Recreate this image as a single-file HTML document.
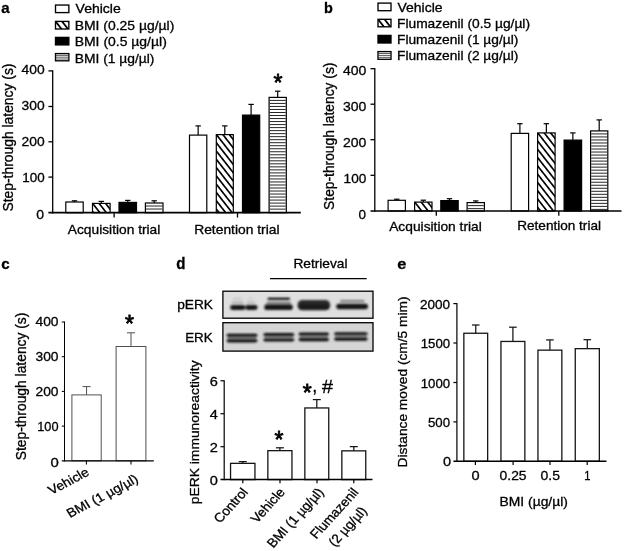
<!DOCTYPE html>
<html><head><meta charset="utf-8"><title>Figure</title>
<style>
html,body{margin:0;padding:0;background:#fff;}
body{width:624px;height:551px;overflow:hidden;}
svg{display:block;font-family:"Liberation Sans",sans-serif;}
svg text{fill:#000;stroke:#000;stroke-width:0.3px;}
</style></head><body>
<svg width="624" height="551" viewBox="0 0 624 551">
<rect x="0" y="0" width="624" height="551" fill="#fff" stroke="none"/>
<defs>
<filter id="bl1" filterUnits="userSpaceOnUse" x="220" y="288" width="156" height="66"><feGaussianBlur stdDeviation="1.0"/></filter>
<filter id="bl2" filterUnits="userSpaceOnUse" x="220" y="288" width="156" height="66"><feGaussianBlur stdDeviation="0.85"/></filter>
</defs>
<text x="1.30" y="13.40" font-size="15.5" textLength="8.40" lengthAdjust="spacingAndGlyphs" font-weight="700">a</text>
<rect x="55.50" y="5.05" width="13.35" height="7.55" fill="#fff" stroke="#000" stroke-width="1.35"/>
<pattern id="dg1" width="5.1" height="5.1" patternUnits="userSpaceOnUse" patternTransform="translate(55.80 21.70) rotate(52)"><rect width="5.1" height="5.1" fill="#fff"/><rect x="0" y="0" width="5.1" height="0.9" fill="#000"/><rect x="0" y="4.199999999999999" width="5.1" height="0.9" fill="#000"/></pattern>
<rect x="55.50" y="21.40" width="13.35" height="7.60" fill="url(#dg1)" stroke="#000" stroke-width="1.35"/>
<rect x="55.50" y="37.40" width="13.35" height="7.50" fill="#000" stroke="#000" stroke-width="1.35"/>
<rect x="55.50" y="53.60" width="13.35" height="7.20" fill="#fff" stroke="#000" stroke-width="1.35"/>
<line x1="55.50" y1="55.40" x2="68.85" y2="55.40" stroke="#333" stroke-width="0.8"/>
<line x1="55.50" y1="57.20" x2="68.85" y2="57.20" stroke="#333" stroke-width="0.8"/>
<line x1="55.50" y1="59.00" x2="68.85" y2="59.00" stroke="#333" stroke-width="0.8"/>
<text x="75.60" y="13.40" font-size="12.7" textLength="45.20" lengthAdjust="spacingAndGlyphs">Vehicle</text>
<text x="74.70" y="29.60" font-size="12.7" textLength="99.60" lengthAdjust="spacingAndGlyphs">BMI (0.25 µg/µl)</text>
<text x="74.70" y="45.90" font-size="12.7" textLength="92.10" lengthAdjust="spacingAndGlyphs">BMI (0.5 µg/µl)</text>
<text x="74.70" y="63.40" font-size="13.3" textLength="79.80" lengthAdjust="spacingAndGlyphs">BMI (1 µg/µl)</text>
<line x1="74.50" y1="200.80" x2="74.50" y2="202.40" stroke="#000" stroke-width="1.2"/>
<line x1="71.80" y1="200.80" x2="77.20" y2="200.80" stroke="#000" stroke-width="1.2"/>
<rect x="65.80" y="202.00" width="17.40" height="10.70" fill="#fff" stroke="#000" stroke-width="1.2"/>
<line x1="101.30" y1="201.40" x2="101.30" y2="203.80" stroke="#000" stroke-width="1.2"/>
<line x1="98.60" y1="201.40" x2="104.00" y2="201.40" stroke="#000" stroke-width="1.2"/>
<pattern id="dg2" width="5.1" height="5.1" patternUnits="userSpaceOnUse" patternTransform="translate(93.10 204.00) rotate(52)"><rect width="5.1" height="5.1" fill="#fff"/><rect x="0" y="0" width="5.1" height="0.825" fill="#000"/><rect x="0" y="4.2749999999999995" width="5.1" height="0.825" fill="#000"/></pattern>
<rect x="92.50" y="203.40" width="17.60" height="9.30" fill="url(#dg2)" stroke="#000" stroke-width="1.2"/>
<line x1="127.75" y1="200.40" x2="127.75" y2="202.80" stroke="#000" stroke-width="1.2"/>
<line x1="125.05" y1="200.40" x2="130.45" y2="200.40" stroke="#000" stroke-width="1.2"/>
<rect x="119.00" y="202.40" width="17.50" height="10.30" fill="#000" stroke="#000" stroke-width="1.2"/>
<line x1="154.20" y1="200.80" x2="154.20" y2="203.40" stroke="#000" stroke-width="1.2"/>
<line x1="151.50" y1="200.80" x2="156.90" y2="200.80" stroke="#000" stroke-width="1.2"/>
<rect x="145.40" y="203.00" width="17.60" height="9.70" fill="#fff" stroke="#000" stroke-width="1.2"/>
<line x1="146.00" y1="206.02" x2="162.40" y2="206.02" stroke="#1a1a1a" stroke-width="0.95"/>
<line x1="146.00" y1="209.04" x2="162.40" y2="209.04" stroke="#1a1a1a" stroke-width="0.95"/>
<line x1="198.15" y1="125.90" x2="198.15" y2="135.50" stroke="#000" stroke-width="1.2"/>
<line x1="195.45" y1="125.90" x2="200.85" y2="125.90" stroke="#000" stroke-width="1.2"/>
<rect x="189.50" y="135.10" width="17.30" height="77.60" fill="#fff" stroke="#000" stroke-width="1.2"/>
<line x1="224.80" y1="125.90" x2="224.80" y2="135.00" stroke="#000" stroke-width="1.2"/>
<line x1="222.10" y1="125.90" x2="227.50" y2="125.90" stroke="#000" stroke-width="1.2"/>
<pattern id="dg3" width="5.1" height="5.1" patternUnits="userSpaceOnUse" patternTransform="translate(216.90 135.20) rotate(52)"><rect width="5.1" height="5.1" fill="#fff"/><rect x="0" y="0" width="5.1" height="0.825" fill="#000"/><rect x="0" y="4.2749999999999995" width="5.1" height="0.825" fill="#000"/></pattern>
<rect x="216.30" y="134.60" width="17.00" height="78.10" fill="url(#dg3)" stroke="#000" stroke-width="1.2"/>
<line x1="251.10" y1="104.40" x2="251.10" y2="115.50" stroke="#000" stroke-width="1.2"/>
<line x1="248.40" y1="104.40" x2="253.80" y2="104.40" stroke="#000" stroke-width="1.2"/>
<rect x="242.50" y="115.10" width="17.20" height="97.60" fill="#000" stroke="#000" stroke-width="1.2"/>
<line x1="277.70" y1="91.20" x2="277.70" y2="97.80" stroke="#000" stroke-width="1.2"/>
<line x1="275.00" y1="91.20" x2="280.40" y2="91.20" stroke="#000" stroke-width="1.2"/>
<rect x="269.10" y="97.40" width="17.20" height="115.30" fill="#fff" stroke="#000" stroke-width="1.2"/>
<line x1="269.70" y1="100.42" x2="285.70" y2="100.42" stroke="#1a1a1a" stroke-width="0.95"/>
<line x1="269.70" y1="103.44" x2="285.70" y2="103.44" stroke="#1a1a1a" stroke-width="0.95"/>
<line x1="269.70" y1="106.46" x2="285.70" y2="106.46" stroke="#1a1a1a" stroke-width="0.95"/>
<line x1="269.70" y1="109.48" x2="285.70" y2="109.48" stroke="#1a1a1a" stroke-width="0.95"/>
<line x1="269.70" y1="112.50" x2="285.70" y2="112.50" stroke="#1a1a1a" stroke-width="0.95"/>
<line x1="269.70" y1="115.52" x2="285.70" y2="115.52" stroke="#1a1a1a" stroke-width="0.95"/>
<line x1="269.70" y1="118.54" x2="285.70" y2="118.54" stroke="#1a1a1a" stroke-width="0.95"/>
<line x1="269.70" y1="121.56" x2="285.70" y2="121.56" stroke="#1a1a1a" stroke-width="0.95"/>
<line x1="269.70" y1="124.58" x2="285.70" y2="124.58" stroke="#1a1a1a" stroke-width="0.95"/>
<line x1="269.70" y1="127.60" x2="285.70" y2="127.60" stroke="#1a1a1a" stroke-width="0.95"/>
<line x1="269.70" y1="130.62" x2="285.70" y2="130.62" stroke="#1a1a1a" stroke-width="0.95"/>
<line x1="269.70" y1="133.64" x2="285.70" y2="133.64" stroke="#1a1a1a" stroke-width="0.95"/>
<line x1="269.70" y1="136.66" x2="285.70" y2="136.66" stroke="#1a1a1a" stroke-width="0.95"/>
<line x1="269.70" y1="139.68" x2="285.70" y2="139.68" stroke="#1a1a1a" stroke-width="0.95"/>
<line x1="269.70" y1="142.70" x2="285.70" y2="142.70" stroke="#1a1a1a" stroke-width="0.95"/>
<line x1="269.70" y1="145.72" x2="285.70" y2="145.72" stroke="#1a1a1a" stroke-width="0.95"/>
<line x1="269.70" y1="148.74" x2="285.70" y2="148.74" stroke="#1a1a1a" stroke-width="0.95"/>
<line x1="269.70" y1="151.76" x2="285.70" y2="151.76" stroke="#1a1a1a" stroke-width="0.95"/>
<line x1="269.70" y1="154.78" x2="285.70" y2="154.78" stroke="#1a1a1a" stroke-width="0.95"/>
<line x1="269.70" y1="157.80" x2="285.70" y2="157.80" stroke="#1a1a1a" stroke-width="0.95"/>
<line x1="269.70" y1="160.82" x2="285.70" y2="160.82" stroke="#1a1a1a" stroke-width="0.95"/>
<line x1="269.70" y1="163.84" x2="285.70" y2="163.84" stroke="#1a1a1a" stroke-width="0.95"/>
<line x1="269.70" y1="166.86" x2="285.70" y2="166.86" stroke="#1a1a1a" stroke-width="0.95"/>
<line x1="269.70" y1="169.88" x2="285.70" y2="169.88" stroke="#1a1a1a" stroke-width="0.95"/>
<line x1="269.70" y1="172.90" x2="285.70" y2="172.90" stroke="#1a1a1a" stroke-width="0.95"/>
<line x1="269.70" y1="175.92" x2="285.70" y2="175.92" stroke="#1a1a1a" stroke-width="0.95"/>
<line x1="269.70" y1="178.94" x2="285.70" y2="178.94" stroke="#1a1a1a" stroke-width="0.95"/>
<line x1="269.70" y1="181.96" x2="285.70" y2="181.96" stroke="#1a1a1a" stroke-width="0.95"/>
<line x1="269.70" y1="184.98" x2="285.70" y2="184.98" stroke="#1a1a1a" stroke-width="0.95"/>
<line x1="269.70" y1="188.00" x2="285.70" y2="188.00" stroke="#1a1a1a" stroke-width="0.95"/>
<line x1="269.70" y1="191.02" x2="285.70" y2="191.02" stroke="#1a1a1a" stroke-width="0.95"/>
<line x1="269.70" y1="194.04" x2="285.70" y2="194.04" stroke="#1a1a1a" stroke-width="0.95"/>
<line x1="269.70" y1="197.06" x2="285.70" y2="197.06" stroke="#1a1a1a" stroke-width="0.95"/>
<line x1="269.70" y1="200.08" x2="285.70" y2="200.08" stroke="#1a1a1a" stroke-width="0.95"/>
<line x1="269.70" y1="203.10" x2="285.70" y2="203.10" stroke="#1a1a1a" stroke-width="0.95"/>
<line x1="269.70" y1="206.12" x2="285.70" y2="206.12" stroke="#1a1a1a" stroke-width="0.95"/>
<line x1="269.70" y1="209.14" x2="285.70" y2="209.14" stroke="#1a1a1a" stroke-width="0.95"/>
<line x1="52.70" y1="70.25" x2="52.70" y2="213.55" stroke="#000" stroke-width="1.3"/>
<line x1="48.40" y1="212.70" x2="300.80" y2="212.70" stroke="#000" stroke-width="1.7"/>
<line x1="48.40" y1="70.90" x2="52.70" y2="70.90" stroke="#000" stroke-width="1.3"/>
<line x1="48.40" y1="106.50" x2="52.70" y2="106.50" stroke="#000" stroke-width="1.3"/>
<line x1="48.40" y1="141.80" x2="52.70" y2="141.80" stroke="#000" stroke-width="1.3"/>
<line x1="48.40" y1="177.10" x2="52.70" y2="177.10" stroke="#000" stroke-width="1.3"/>
<line x1="114.10" y1="212.70" x2="114.10" y2="217.55" stroke="#000" stroke-width="1.3"/>
<line x1="237.50" y1="212.70" x2="237.50" y2="217.55" stroke="#000" stroke-width="1.3"/>
<text x="21.60" y="73.90" font-size="13" textLength="23.10" lengthAdjust="spacingAndGlyphs">400</text>
<text x="21.60" y="110.05" font-size="13" textLength="23.10" lengthAdjust="spacingAndGlyphs">300</text>
<text x="21.60" y="146.20" font-size="13" textLength="23.10" lengthAdjust="spacingAndGlyphs">200</text>
<text x="22.30" y="182.35" font-size="13" textLength="22.40" lengthAdjust="spacingAndGlyphs">100</text>
<text x="36.20" y="218.50" font-size="13" textLength="7.80" lengthAdjust="spacingAndGlyphs">0</text>
<text x="0" y="0" font-size="13.88" textLength="148.10" lengthAdjust="spacingAndGlyphs" transform="translate(12.90 211.60) scale(1.04 1) rotate(-90)">Step-through latency (s)</text>
<text x="67.80" y="233.60" font-size="12.7" textLength="92.50" lengthAdjust="spacingAndGlyphs">Acquisition trial</text>
<text x="194.20" y="233.60" font-size="12.7" textLength="85.30" lengthAdjust="spacingAndGlyphs">Retention trial</text>
<text x="278.00" y="91.26" font-size="23" text-anchor="middle" style="stroke-width:0.8px">*</text>
<text x="324.00" y="12.50" font-size="15.5" textLength="8.80" lengthAdjust="spacingAndGlyphs" font-weight="700">b</text>
<rect x="378.00" y="3.10" width="13.00" height="7.60" fill="#fff" stroke="#000" stroke-width="1.35"/>
<pattern id="dg4" width="5.1" height="5.1" patternUnits="userSpaceOnUse" patternTransform="translate(378.30 19.60) rotate(52)"><rect width="5.1" height="5.1" fill="#fff"/><rect x="0" y="0" width="5.1" height="0.9" fill="#000"/><rect x="0" y="4.199999999999999" width="5.1" height="0.9" fill="#000"/></pattern>
<rect x="378.00" y="19.30" width="13.00" height="7.50" fill="url(#dg4)" stroke="#000" stroke-width="1.35"/>
<rect x="378.00" y="35.40" width="13.00" height="7.60" fill="#000" stroke="#000" stroke-width="1.35"/>
<rect x="378.00" y="51.60" width="13.00" height="7.70" fill="#fff" stroke="#000" stroke-width="1.35"/>
<line x1="378.00" y1="53.52" x2="391.00" y2="53.52" stroke="#333" stroke-width="0.8"/>
<line x1="378.00" y1="55.45" x2="391.00" y2="55.45" stroke="#333" stroke-width="0.8"/>
<line x1="378.00" y1="57.38" x2="391.00" y2="57.38" stroke="#333" stroke-width="0.8"/>
<text x="397.50" y="11.80" font-size="12.7" textLength="45.00" lengthAdjust="spacingAndGlyphs">Vehicle</text>
<text x="397.00" y="27.60" font-size="12.7" textLength="133.00" lengthAdjust="spacingAndGlyphs">Flumazenil (0.5 µg/µl)</text>
<text x="397.00" y="43.60" font-size="12.7" textLength="121.30" lengthAdjust="spacingAndGlyphs">Flumazenil (1 µg/µl)</text>
<text x="397.00" y="59.70" font-size="12.7" textLength="121.30" lengthAdjust="spacingAndGlyphs">Flumazenil (2 µg/µl)</text>
<line x1="396.75" y1="199.20" x2="396.75" y2="200.70" stroke="#000" stroke-width="1.2"/>
<line x1="394.05" y1="199.20" x2="399.45" y2="199.20" stroke="#000" stroke-width="1.2"/>
<rect x="388.10" y="200.30" width="17.30" height="10.70" fill="#fff" stroke="#000" stroke-width="1.2"/>
<line x1="423.30" y1="200.20" x2="423.30" y2="202.50" stroke="#000" stroke-width="1.2"/>
<line x1="420.60" y1="200.20" x2="426.00" y2="200.20" stroke="#000" stroke-width="1.2"/>
<pattern id="dg5" width="5.1" height="5.1" patternUnits="userSpaceOnUse" patternTransform="translate(415.20 202.70) rotate(52)"><rect width="5.1" height="5.1" fill="#fff"/><rect x="0" y="0" width="5.1" height="0.825" fill="#000"/><rect x="0" y="4.2749999999999995" width="5.1" height="0.825" fill="#000"/></pattern>
<rect x="414.60" y="202.10" width="17.40" height="8.90" fill="url(#dg5)" stroke="#000" stroke-width="1.2"/>
<line x1="449.50" y1="198.70" x2="449.50" y2="201.00" stroke="#000" stroke-width="1.2"/>
<line x1="446.80" y1="198.70" x2="452.20" y2="198.70" stroke="#000" stroke-width="1.2"/>
<rect x="440.80" y="200.60" width="17.40" height="10.40" fill="#000" stroke="#000" stroke-width="1.2"/>
<line x1="475.75" y1="200.90" x2="475.75" y2="203.00" stroke="#000" stroke-width="1.2"/>
<line x1="473.05" y1="200.90" x2="478.45" y2="200.90" stroke="#000" stroke-width="1.2"/>
<rect x="467.10" y="202.60" width="17.30" height="8.40" fill="#fff" stroke="#000" stroke-width="1.2"/>
<line x1="467.70" y1="205.62" x2="483.80" y2="205.62" stroke="#1a1a1a" stroke-width="0.95"/>
<line x1="467.70" y1="208.64" x2="483.80" y2="208.64" stroke="#1a1a1a" stroke-width="0.95"/>
<line x1="519.90" y1="123.70" x2="519.90" y2="133.80" stroke="#000" stroke-width="1.2"/>
<line x1="517.20" y1="123.70" x2="522.60" y2="123.70" stroke="#000" stroke-width="1.2"/>
<rect x="511.20" y="133.40" width="17.40" height="77.60" fill="#fff" stroke="#000" stroke-width="1.2"/>
<line x1="546.35" y1="123.70" x2="546.35" y2="133.30" stroke="#000" stroke-width="1.2"/>
<line x1="543.65" y1="123.70" x2="549.05" y2="123.70" stroke="#000" stroke-width="1.2"/>
<pattern id="dg6" width="5.1" height="5.1" patternUnits="userSpaceOnUse" patternTransform="translate(538.20 133.50) rotate(52)"><rect width="5.1" height="5.1" fill="#fff"/><rect x="0" y="0" width="5.1" height="0.825" fill="#000"/><rect x="0" y="4.2749999999999995" width="5.1" height="0.825" fill="#000"/></pattern>
<rect x="537.60" y="132.90" width="17.50" height="78.10" fill="url(#dg6)" stroke="#000" stroke-width="1.2"/>
<line x1="572.85" y1="132.90" x2="572.85" y2="140.50" stroke="#000" stroke-width="1.2"/>
<line x1="570.15" y1="132.90" x2="575.55" y2="132.90" stroke="#000" stroke-width="1.2"/>
<rect x="564.10" y="140.10" width="17.50" height="70.90" fill="#000" stroke="#000" stroke-width="1.2"/>
<line x1="599.20" y1="119.90" x2="599.20" y2="131.30" stroke="#000" stroke-width="1.2"/>
<line x1="596.50" y1="119.90" x2="601.90" y2="119.90" stroke="#000" stroke-width="1.2"/>
<rect x="590.60" y="130.90" width="17.20" height="80.10" fill="#fff" stroke="#000" stroke-width="1.2"/>
<line x1="591.20" y1="133.92" x2="607.20" y2="133.92" stroke="#1a1a1a" stroke-width="0.95"/>
<line x1="591.20" y1="136.94" x2="607.20" y2="136.94" stroke="#1a1a1a" stroke-width="0.95"/>
<line x1="591.20" y1="139.96" x2="607.20" y2="139.96" stroke="#1a1a1a" stroke-width="0.95"/>
<line x1="591.20" y1="142.98" x2="607.20" y2="142.98" stroke="#1a1a1a" stroke-width="0.95"/>
<line x1="591.20" y1="146.00" x2="607.20" y2="146.00" stroke="#1a1a1a" stroke-width="0.95"/>
<line x1="591.20" y1="149.02" x2="607.20" y2="149.02" stroke="#1a1a1a" stroke-width="0.95"/>
<line x1="591.20" y1="152.04" x2="607.20" y2="152.04" stroke="#1a1a1a" stroke-width="0.95"/>
<line x1="591.20" y1="155.06" x2="607.20" y2="155.06" stroke="#1a1a1a" stroke-width="0.95"/>
<line x1="591.20" y1="158.08" x2="607.20" y2="158.08" stroke="#1a1a1a" stroke-width="0.95"/>
<line x1="591.20" y1="161.10" x2="607.20" y2="161.10" stroke="#1a1a1a" stroke-width="0.95"/>
<line x1="591.20" y1="164.12" x2="607.20" y2="164.12" stroke="#1a1a1a" stroke-width="0.95"/>
<line x1="591.20" y1="167.14" x2="607.20" y2="167.14" stroke="#1a1a1a" stroke-width="0.95"/>
<line x1="591.20" y1="170.16" x2="607.20" y2="170.16" stroke="#1a1a1a" stroke-width="0.95"/>
<line x1="591.20" y1="173.18" x2="607.20" y2="173.18" stroke="#1a1a1a" stroke-width="0.95"/>
<line x1="591.20" y1="176.20" x2="607.20" y2="176.20" stroke="#1a1a1a" stroke-width="0.95"/>
<line x1="591.20" y1="179.22" x2="607.20" y2="179.22" stroke="#1a1a1a" stroke-width="0.95"/>
<line x1="591.20" y1="182.24" x2="607.20" y2="182.24" stroke="#1a1a1a" stroke-width="0.95"/>
<line x1="591.20" y1="185.26" x2="607.20" y2="185.26" stroke="#1a1a1a" stroke-width="0.95"/>
<line x1="591.20" y1="188.28" x2="607.20" y2="188.28" stroke="#1a1a1a" stroke-width="0.95"/>
<line x1="591.20" y1="191.30" x2="607.20" y2="191.30" stroke="#1a1a1a" stroke-width="0.95"/>
<line x1="591.20" y1="194.32" x2="607.20" y2="194.32" stroke="#1a1a1a" stroke-width="0.95"/>
<line x1="591.20" y1="197.34" x2="607.20" y2="197.34" stroke="#1a1a1a" stroke-width="0.95"/>
<line x1="591.20" y1="200.36" x2="607.20" y2="200.36" stroke="#1a1a1a" stroke-width="0.95"/>
<line x1="591.20" y1="203.38" x2="607.20" y2="203.38" stroke="#1a1a1a" stroke-width="0.95"/>
<line x1="591.20" y1="206.40" x2="607.20" y2="206.40" stroke="#1a1a1a" stroke-width="0.95"/>
<line x1="591.20" y1="209.42" x2="607.20" y2="209.42" stroke="#1a1a1a" stroke-width="0.95"/>
<line x1="374.80" y1="68.05" x2="374.80" y2="211.85" stroke="#000" stroke-width="1.3"/>
<line x1="370.50" y1="211.00" x2="621.50" y2="211.00" stroke="#000" stroke-width="1.7"/>
<line x1="370.50" y1="68.70" x2="374.80" y2="68.70" stroke="#000" stroke-width="1.3"/>
<line x1="370.50" y1="104.20" x2="374.80" y2="104.20" stroke="#000" stroke-width="1.3"/>
<line x1="370.50" y1="139.70" x2="374.80" y2="139.70" stroke="#000" stroke-width="1.3"/>
<line x1="370.50" y1="175.30" x2="374.80" y2="175.30" stroke="#000" stroke-width="1.3"/>
<line x1="436.30" y1="211.00" x2="436.30" y2="215.85" stroke="#000" stroke-width="1.3"/>
<line x1="558.80" y1="211.00" x2="558.80" y2="215.85" stroke="#000" stroke-width="1.3"/>
<text x="342.90" y="74.75" font-size="13" textLength="23.40" lengthAdjust="spacingAndGlyphs">400</text>
<text x="342.90" y="110.69" font-size="13" textLength="23.40" lengthAdjust="spacingAndGlyphs">300</text>
<text x="342.90" y="146.63" font-size="13" textLength="23.40" lengthAdjust="spacingAndGlyphs">200</text>
<text x="343.60" y="182.57" font-size="13" textLength="22.70" lengthAdjust="spacingAndGlyphs">100</text>
<text x="358.60" y="218.51" font-size="13" textLength="7.50" lengthAdjust="spacingAndGlyphs">0</text>
<text x="0" y="0" font-size="13.8" textLength="147.30" lengthAdjust="spacingAndGlyphs" transform="translate(334.00 209.90) scale(1.04 1) rotate(-90)">Step-through latency (s)</text>
<text x="389.20" y="230.70" font-size="12.7" textLength="92.60" lengthAdjust="spacingAndGlyphs">Acquisition trial</text>
<text x="517.20" y="230.40" font-size="12.7" textLength="83.80" lengthAdjust="spacingAndGlyphs">Retention trial</text>
<text x="1.30" y="268.60" font-size="15.5" textLength="8.40" lengthAdjust="spacingAndGlyphs" font-weight="700">c</text>
<line x1="86.55" y1="386.60" x2="86.55" y2="394.90" stroke="#505050" stroke-width="1.0"/>
<line x1="82.55" y1="386.60" x2="90.55" y2="386.60" stroke="#505050" stroke-width="1.0"/>
<rect x="71.90" y="394.90" width="29.30" height="65.90" fill="#fff" stroke="#505050" stroke-width="1.0"/>
<line x1="131.00" y1="332.80" x2="131.00" y2="346.50" stroke="#505050" stroke-width="1.0"/>
<line x1="127.00" y1="332.80" x2="135.00" y2="332.80" stroke="#505050" stroke-width="1.0"/>
<rect x="116.10" y="346.50" width="29.80" height="114.30" fill="#fff" stroke="#505050" stroke-width="1.0"/>
<line x1="64.50" y1="321.48" x2="64.50" y2="461.43" stroke="#000" stroke-width="1.05"/>
<line x1="61.80" y1="460.80" x2="153.80" y2="460.80" stroke="#000" stroke-width="1.25"/>
<line x1="61.80" y1="322.00" x2="64.50" y2="322.00" stroke="#000" stroke-width="1.05"/>
<line x1="61.80" y1="356.70" x2="64.50" y2="356.70" stroke="#000" stroke-width="1.05"/>
<line x1="61.80" y1="391.40" x2="64.50" y2="391.40" stroke="#000" stroke-width="1.05"/>
<line x1="61.80" y1="426.10" x2="64.50" y2="426.10" stroke="#000" stroke-width="1.05"/>
<line x1="86.40" y1="460.80" x2="86.40" y2="464.43" stroke="#000" stroke-width="1.05"/>
<line x1="131.00" y1="460.80" x2="131.00" y2="464.43" stroke="#000" stroke-width="1.05"/>
<text x="35.50" y="326.10" font-size="13" textLength="23.00" lengthAdjust="spacingAndGlyphs">400</text>
<text x="35.50" y="361.20" font-size="13" textLength="23.00" lengthAdjust="spacingAndGlyphs">300</text>
<text x="35.50" y="396.30" font-size="13" textLength="23.00" lengthAdjust="spacingAndGlyphs">200</text>
<text x="37.20" y="431.40" font-size="13" textLength="21.30" lengthAdjust="spacingAndGlyphs">100</text>
<text x="50.50" y="466.50" font-size="13" textLength="8.30" lengthAdjust="spacingAndGlyphs">0</text>
<text x="0" y="0" font-size="13.84" textLength="147.70" lengthAdjust="spacingAndGlyphs" transform="translate(26.20 460.30) scale(1.02 1) rotate(-90)">Step-through latency (s)</text>
<text x="-40.95" y="0" font-size="12.7" textLength="40.95" lengthAdjust="spacingAndGlyphs" transform="translate(90.20 474.60) scale(1.09 1) rotate(-30)">Vehicle</text>
<text x="-73.21" y="0" font-size="12.7" textLength="73.21" lengthAdjust="spacingAndGlyphs" transform="translate(139.20 481.50) scale(1.09 1) rotate(-30)">BMI (1 µg/µl)</text>
<text x="129.60" y="331.76" font-size="23" text-anchor="middle" style="stroke-width:0.8px">*</text>
<text x="176.30" y="268.80" font-size="16" textLength="9.20" lengthAdjust="spacingAndGlyphs" font-weight="700">d</text>
<text x="293.40" y="268.30" font-size="12.7" textLength="54.10" lengthAdjust="spacingAndGlyphs">Retrieval</text>
<line x1="270.00" y1="278.70" x2="366.70" y2="278.70" stroke="#000" stroke-width="1.2"/>
<text x="177.20" y="309.20" font-size="12.7" textLength="35.80" lengthAdjust="spacingAndGlyphs">pERK</text>
<text x="185.20" y="342.30" font-size="12.7" textLength="27.50" lengthAdjust="spacingAndGlyphs">ERK</text>
<g id="blots">
<rect x="222.90" y="291.20" width="150.10" height="27.00" fill="#dfdfdf" stroke="#000" stroke-width="1.3"/>
<rect x="222.90" y="322.70" width="150.10" height="28.40" fill="#d5d5d5" stroke="#000" stroke-width="1.3"/>
<g filter="url(#bl2)">
<rect x="232.0" y="301.7" width="11.5" height="1.6" rx="0.8" fill="#9a9a9a" opacity="1"/>
<rect x="247.0" y="301.7" width="8.0" height="1.6" rx="0.8" fill="#a8a8a8" opacity="1"/>
<rect x="233.0" y="298.1" width="9.0" height="1.2" rx="0.6" fill="#bcbcbc" opacity="1"/>
<rect x="248.0" y="298.1" width="5.0" height="1.2" rx="0.6" fill="#c8c8c8" opacity="1"/>
<rect x="266.5" y="301.5" width="24.5" height="2.5" rx="1.2" fill="#858585" opacity="1"/>
<rect x="267.5" y="297.8" width="22.5" height="2.1" rx="1.0" fill="#000" opacity="1"/>
<rect x="340.0" y="300.0" width="24.5" height="2.2" rx="1.1" fill="#7a7a7a" opacity="1"/>
</g>
<g filter="url(#bl1)">
<rect x="230.2" y="304.9" width="15.1" height="5.2" rx="2.4" fill="#151515" opacity="1"/>
<rect x="245.2" y="305.0" width="12.4" height="5.0" rx="2.4" fill="#151515" opacity="1"/>
<rect x="264.3" y="304.3" width="28.5" height="5.8" rx="2.9" fill="#151515" opacity="1"/>
<rect x="297.5" y="300.0" width="32.7" height="10.2" rx="4.8" fill="#2b2b2b" opacity="1"/>
<rect x="298.5" y="304.5" width="30.7" height="5.5" rx="2.7" fill="#1c1c1c" opacity="1"/>
<rect x="336.2" y="303.8" width="31.8" height="5.4" rx="2.7" fill="#151515" opacity="1"/>
</g>
<g filter="url(#bl2)">
<rect x="227.6" y="335.0" width="28.8" height="6.6" rx="2.0" fill="#a0a0a0" opacity="1"/>
<rect x="226.6" y="333.8" width="30.8" height="3.4" rx="1.7" fill="#101010" opacity="1"/>
<rect x="226.6" y="338.7" width="30.8" height="3.7" rx="1.8" fill="#101010" opacity="1"/>
<rect x="264.4" y="334.2" width="28.8" height="6.6" rx="2.0" fill="#a0a0a0" opacity="1"/>
<rect x="263.4" y="333.0" width="30.8" height="3.4" rx="1.7" fill="#101010" opacity="1"/>
<rect x="263.4" y="337.9" width="30.8" height="3.7" rx="1.8" fill="#101010" opacity="1"/>
<rect x="299.7" y="333.8" width="28.2" height="6.6" rx="2.0" fill="#a0a0a0" opacity="1"/>
<rect x="298.7" y="332.6" width="30.2" height="3.4" rx="1.7" fill="#101010" opacity="1"/>
<rect x="298.7" y="337.5" width="30.2" height="3.7" rx="1.8" fill="#101010" opacity="1"/>
<rect x="335.2" y="333.4" width="31.4" height="6.6" rx="2.0" fill="#a0a0a0" opacity="1"/>
<rect x="334.2" y="332.2" width="33.4" height="3.4" rx="1.7" fill="#101010" opacity="1"/>
<rect x="334.2" y="337.1" width="33.4" height="3.7" rx="1.8" fill="#101010" opacity="1"/>
</g>
</g>
<line x1="242.75" y1="461.60" x2="242.75" y2="463.70" stroke="#151515" stroke-width="1.25"/>
<line x1="238.75" y1="461.60" x2="246.75" y2="461.60" stroke="#151515" stroke-width="1.25"/>
<rect x="230.55" y="463.35" width="24.40" height="16.25" fill="#fff" stroke="#151515" stroke-width="1.3"/>
<line x1="279.90" y1="447.80" x2="279.90" y2="451.00" stroke="#151515" stroke-width="1.25"/>
<line x1="275.90" y1="447.80" x2="283.90" y2="447.80" stroke="#151515" stroke-width="1.25"/>
<rect x="267.85" y="450.65" width="24.10" height="28.95" fill="#fff" stroke="#151515" stroke-width="1.3"/>
<line x1="316.80" y1="399.60" x2="316.80" y2="408.30" stroke="#151515" stroke-width="1.25"/>
<line x1="312.80" y1="399.60" x2="320.80" y2="399.60" stroke="#151515" stroke-width="1.25"/>
<rect x="304.85" y="407.95" width="23.90" height="71.65" fill="#fff" stroke="#151515" stroke-width="1.3"/>
<line x1="353.80" y1="446.60" x2="353.80" y2="451.20" stroke="#151515" stroke-width="1.25"/>
<line x1="349.80" y1="446.60" x2="357.80" y2="446.60" stroke="#151515" stroke-width="1.25"/>
<rect x="341.85" y="450.85" width="23.90" height="28.75" fill="#fff" stroke="#151515" stroke-width="1.3"/>
<line x1="224.20" y1="380.20" x2="224.20" y2="480.35" stroke="#000" stroke-width="1.2"/>
<line x1="220.50" y1="479.60" x2="372.50" y2="479.60" stroke="#000" stroke-width="1.5"/>
<line x1="220.50" y1="380.80" x2="224.20" y2="380.80" stroke="#000" stroke-width="1.2"/>
<line x1="220.50" y1="413.70" x2="224.20" y2="413.70" stroke="#000" stroke-width="1.2"/>
<line x1="220.50" y1="446.70" x2="224.20" y2="446.70" stroke="#000" stroke-width="1.2"/>
<line x1="242.80" y1="479.60" x2="242.80" y2="483.15" stroke="#000" stroke-width="1.2"/>
<line x1="280.00" y1="479.60" x2="280.00" y2="483.15" stroke="#000" stroke-width="1.2"/>
<line x1="317.00" y1="479.60" x2="317.00" y2="483.15" stroke="#000" stroke-width="1.2"/>
<line x1="353.80" y1="479.60" x2="353.80" y2="483.15" stroke="#000" stroke-width="1.2"/>
<text x="209.70" y="385.80" font-size="13" textLength="8.10" lengthAdjust="spacingAndGlyphs">6</text>
<text x="209.70" y="418.70" font-size="13" textLength="8.10" lengthAdjust="spacingAndGlyphs">4</text>
<text x="209.70" y="451.60" font-size="13" textLength="8.10" lengthAdjust="spacingAndGlyphs">2</text>
<text x="209.70" y="484.50" font-size="13" textLength="8.10" lengthAdjust="spacingAndGlyphs">0</text>
<text x="0" y="0" font-size="13.84" textLength="143.80" lengthAdjust="spacingAndGlyphs" transform="translate(198.80 504.20) scale(0.98 1) rotate(-90)">pERK immunoreactivity</text>
<text x="279.10" y="448.26" font-size="23" text-anchor="middle" style="stroke-width:0.8px">*</text>
<text x="307.20" y="400.56" font-size="23" text-anchor="middle" style="stroke-width:0.8px">*</text>
<text x="312.3" y="392.4" font-size="18">,</text>
<text x="321.90" y="392.60" font-size="18" textLength="11.00" lengthAdjust="spacingAndGlyphs">#</text>
<text x="-40.94" y="0" font-size="12.7" textLength="40.94" lengthAdjust="spacingAndGlyphs" transform="translate(248.70 492.50) scale(1.09 1) rotate(-50)">Control</text>
<text x="-40.95" y="0" font-size="12.7" textLength="40.95" lengthAdjust="spacingAndGlyphs" transform="translate(285.70 492.50) scale(1.09 1) rotate(-50)">Vehicle</text>
<text x="-73.21" y="0" font-size="12.7" textLength="73.21" lengthAdjust="spacingAndGlyphs" transform="translate(324.50 492.50) scale(1.09 1) rotate(-50)">BMI (1 µg/µl)</text>
<text x="-61.40" y="0" font-size="12.7" textLength="61.40" lengthAdjust="spacingAndGlyphs" transform="translate(359.30 492.50) scale(1.09 1) rotate(-50)">Flumazenil</text>
<text x="-47.10" y="0" font-size="12.7" textLength="47.10" lengthAdjust="spacingAndGlyphs" transform="translate(367.70 511.20) scale(1.09 1) rotate(-50)">(2 µg/µl)</text>
<text x="397.20" y="268.80" font-size="15.5" textLength="9.10" lengthAdjust="spacingAndGlyphs" font-weight="700">e</text>
<line x1="475.75" y1="325.00" x2="475.75" y2="333.60" stroke="#151515" stroke-width="1.25"/>
<line x1="471.95" y1="325.00" x2="479.55" y2="325.00" stroke="#151515" stroke-width="1.25"/>
<rect x="463.85" y="333.25" width="23.80" height="128.05" fill="#fff" stroke="#151515" stroke-width="1.3"/>
<line x1="512.90" y1="327.20" x2="512.90" y2="341.80" stroke="#151515" stroke-width="1.25"/>
<line x1="509.10" y1="327.20" x2="516.70" y2="327.20" stroke="#151515" stroke-width="1.25"/>
<rect x="500.95" y="341.45" width="23.90" height="119.85" fill="#fff" stroke="#151515" stroke-width="1.3"/>
<line x1="549.90" y1="339.90" x2="549.90" y2="350.50" stroke="#151515" stroke-width="1.25"/>
<line x1="546.10" y1="339.90" x2="553.70" y2="339.90" stroke="#151515" stroke-width="1.25"/>
<rect x="537.95" y="350.15" width="23.90" height="111.15" fill="#fff" stroke="#151515" stroke-width="1.3"/>
<line x1="587.30" y1="339.70" x2="587.30" y2="349.00" stroke="#151515" stroke-width="1.25"/>
<line x1="583.50" y1="339.70" x2="591.10" y2="339.70" stroke="#151515" stroke-width="1.25"/>
<rect x="575.25" y="348.65" width="24.10" height="112.65" fill="#fff" stroke="#151515" stroke-width="1.3"/>
<line x1="456.90" y1="303.00" x2="456.90" y2="462.05" stroke="#000" stroke-width="1.2"/>
<line x1="453.40" y1="461.30" x2="606.50" y2="461.30" stroke="#000" stroke-width="1.5"/>
<line x1="453.40" y1="303.60" x2="456.90" y2="303.60" stroke="#000" stroke-width="1.2"/>
<line x1="453.40" y1="343.00" x2="456.90" y2="343.00" stroke="#000" stroke-width="1.2"/>
<line x1="453.40" y1="382.50" x2="456.90" y2="382.50" stroke="#000" stroke-width="1.2"/>
<line x1="453.40" y1="421.90" x2="456.90" y2="421.90" stroke="#000" stroke-width="1.2"/>
<line x1="475.40" y1="461.30" x2="475.40" y2="465.05" stroke="#000" stroke-width="1.2"/>
<line x1="513.10" y1="461.30" x2="513.10" y2="465.05" stroke="#000" stroke-width="1.2"/>
<line x1="550.00" y1="461.30" x2="550.00" y2="465.05" stroke="#000" stroke-width="1.2"/>
<line x1="587.20" y1="461.30" x2="587.20" y2="465.05" stroke="#000" stroke-width="1.2"/>
<text x="420.00" y="308.70" font-size="13" textLength="30.10" lengthAdjust="spacingAndGlyphs">2000</text>
<text x="420.70" y="348.10" font-size="13" textLength="29.40" lengthAdjust="spacingAndGlyphs">1500</text>
<text x="420.70" y="387.50" font-size="13" textLength="29.40" lengthAdjust="spacingAndGlyphs">1000</text>
<text x="428.00" y="426.90" font-size="13" textLength="22.10" lengthAdjust="spacingAndGlyphs">500</text>
<text x="443.00" y="466.30" font-size="13" textLength="8.10" lengthAdjust="spacingAndGlyphs">0</text>
<text x="471.60" y="479.90" font-size="13" textLength="8.10" lengthAdjust="spacingAndGlyphs">0</text>
<text x="499.60" y="479.90" font-size="13" textLength="27.00" lengthAdjust="spacingAndGlyphs">0.25</text>
<text x="540.60" y="479.90" font-size="13" textLength="19.40" lengthAdjust="spacingAndGlyphs">0.5</text>
<text x="584.20" y="479.90" font-size="13" textLength="6.20" lengthAdjust="spacingAndGlyphs">1</text>
<text x="499.60" y="505.60" font-size="12.7" textLength="68.30" lengthAdjust="spacingAndGlyphs">BMI (µg/µl)</text>
<text x="0" y="0" font-size="13.74" textLength="171.00" lengthAdjust="spacingAndGlyphs" transform="translate(407.40 467.40) scale(0.97 1) rotate(-90)">Distance moved (cm/5 mim)</text>
</svg>
</body></html>
